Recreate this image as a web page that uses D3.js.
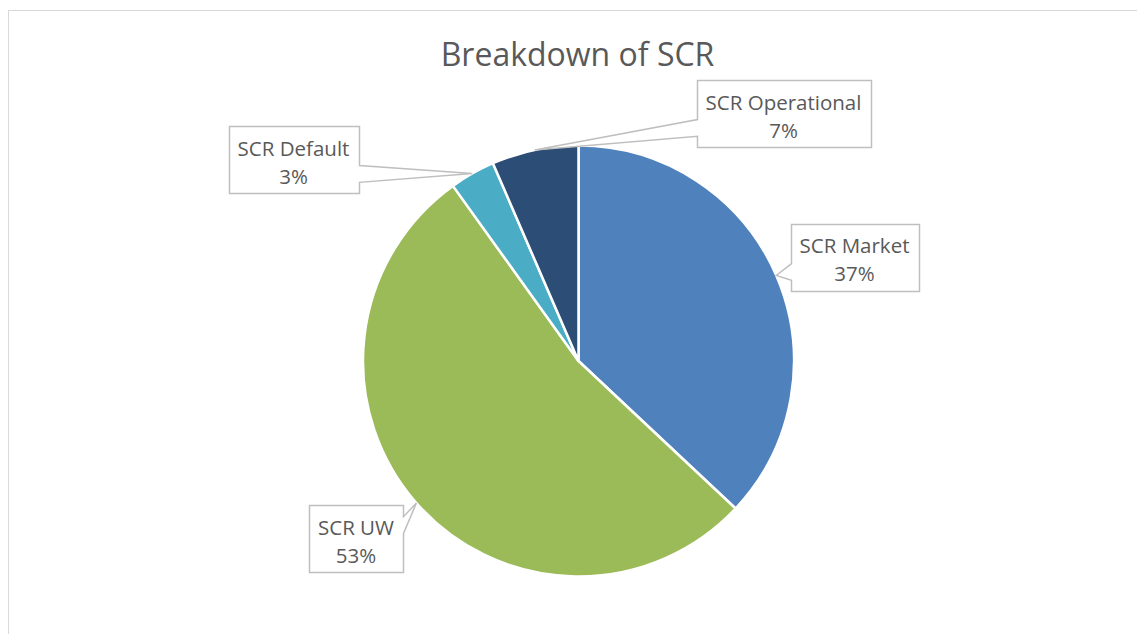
<!DOCTYPE html>
<html>
<head>
<meta charset="utf-8">
<script src="https://cdn.jsdelivr.net/npm/d3@7"></script>
<style>
  html, body { margin: 0; padding: 0; background: #fff; }
  svg { display: block; font-family: "Open Sans", "DejaVu Sans", sans-serif; }
</style>
</head>
<body>
<div id="chart"></div>
<script>
// data
const categories = ["SCR Market", "SCR UW", "SCR Default", "SCR Operational"];
const values = [37.0, 53.1, 3.4, 6.5];
const colors = ["#4F81BD", "#9BBB59", "#4BACC6", "#2C4D75"];
const chartTitle = "Breakdown of SCR";

// callout box centres (layout only)
const calloutCenters = [[854.5, 257], [356, 538.5], [293.5, 159.5], [783.5, 113.5]];

const W = 1137, H = 634;
const cx = 578.5, cy = 361, radius = 215.5;

const svg = d3.select("#chart").append("svg")
    .attr("width", W)
    .attr("height", H);

// chart area border (only left/top visible in the frame)
svg.append("rect")
    .attr("x", 8.5).attr("y", 10.5)
    .attr("width", 1300).attr("height", 800)
    .attr("fill", "#fff")
    .attr("stroke", "#D9D9D9")
    .attr("stroke-width", 1);

// =========================
// TITLE
// =========================
svg.append("text")
    .attr("x", 577.5)
    .attr("y", 66)
    .attr("text-anchor", "middle")
    .attr("fill", "#595959")
    .style("font-size", "32px")
    .text(chartTitle);

// =========================
// PIE
// =========================
const rows = categories.map((c, i) => ({ name: c, value: values[i], color: colors[i] }));
const total = d3.sum(values);

const pie = d3.pie().value(d => d.value).sort(null);
const arc = d3.arc().innerRadius(0).outerRadius(radius);
const arcs = pie(rows);

const g = svg.append("g").attr("transform", `translate(${cx},${cy})`);

g.selectAll("path.slice")
    .data(arcs)
    .enter()
    .append("path")
    .attr("class", "slice")
    .attr("d", arc)
    .attr("fill", d => d.data.color)
    .attr("stroke", "#fff")
    .attr("stroke-width", 2.5)
    .attr("stroke-linejoin", "round");

// =========================
// CALLOUTS
// =========================
function calloutPath(x, y, w, h, tx, ty) {
    const dxPos = tx - (x + w / 2);
    const dyPos = ty - (y + h / 2);
    const horizontal = Math.abs(dxPos * h) > Math.abs(dyPos * w);
    const y1 = y + h * (dyPos > 0 ? 7 : 2) / 12;
    const y2 = y + h * (dyPos > 0 ? 10 : 5) / 12;
    const x1 = x + w * (dxPos > 0 ? 7 : 2) / 12;
    const x2 = x + w * (dxPos > 0 ? 10 : 5) / 12;
    const p = d3.path();
    p.moveTo(x, y);
    if (!horizontal && dyPos < 0) { p.lineTo(x1, y); p.lineTo(tx, ty); p.lineTo(x2, y); }
    p.lineTo(x + w, y);
    if (horizontal && dxPos > 0) { p.lineTo(x + w, y1); p.lineTo(tx, ty); p.lineTo(x + w, y2); }
    p.lineTo(x + w, y + h);
    if (!horizontal && dyPos > 0) { p.lineTo(x2, y + h); p.lineTo(tx, ty); p.lineTo(x1, y + h); }
    p.lineTo(x, y + h);
    if (horizontal && dxPos < 0) { p.lineTo(x, y2); p.lineTo(tx, ty); p.lineTo(x, y1); }
    p.closePath();
    return p.toString();
}

arcs.forEach((d, i) => {
    const [bx, by] = calloutCenters[i];
    const mid = (d.startAngle + d.endAngle) / 2;
    const tx = cx + radius * Math.sin(mid);
    const ty = cy - radius * Math.cos(mid);
    const pct = Math.round(d.data.value / total * 100) + "%";

    const cg = svg.append("g");
    const shape = cg.append("path")
        .attr("fill", "#fff")
        .attr("stroke", "#BFBFBF")
        .attr("stroke-width", 1.5);

    const t1 = cg.append("text")
        .attr("x", bx).attr("y", by - 4)
        .attr("text-anchor", "middle")
        .attr("fill", "#595959")
        .style("font-size", "20.5px")
        .text(d.data.name);
    cg.append("text")
        .attr("x", bx).attr("y", by + 24)
        .attr("text-anchor", "middle")
        .attr("fill", "#595959")
        .style("font-size", "20.5px")
        .text(pct);

    const bw = Math.round(t1.node().getComputedTextLength() + 18);
    const bh = 67;
    const x0 = Math.round(bx - bw / 2) + 0.5;
    const y0 = Math.round(by - bh / 2) + 0.5;
    shape.attr("d", calloutPath(x0, y0, bw, bh, tx, ty));
});
</script>
</body>
</html>
